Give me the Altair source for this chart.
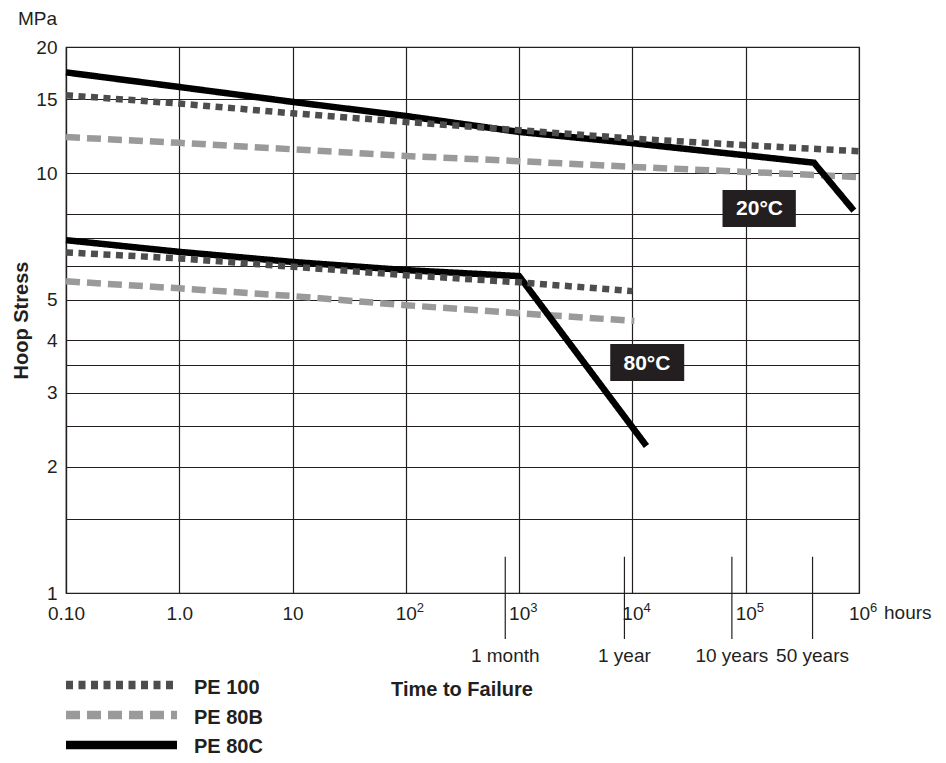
import json
import altair as alt
import pandas as pd

# ---------------- data ----------------
grades = ["PE 100", "PE 80B", "PE 80C"]
grade_colors = ["#4d4d4d", "#9a9a9a", "#000000"]

# 20 °C curves (time in hours, hoop stress in MPa)
t20_pe100 = [0.1, 1, 10, 100, 1e3, 1e4, 1e5, 1e6]
s20_pe100 = [15.35, 14.66, 13.9, 13.26, 12.67, 12.1, 11.67, 11.29]
t20_pe80b = [0.1, 1, 10, 100, 1e3, 1e4, 1e5, 1e6]
s20_pe80b = [12.2, 11.82, 11.41, 11.0, 10.69, 10.36, 10.08, 9.8]
t20_pe80c = [0.1, 1, 10, 100, 1e3, 1e4, 1e5, 4e5, 9e5]
s20_pe80c = [17.4, 16.06, 14.8, 13.7, 12.55, 11.8, 11.04, 10.6, 8.15]

# 80 °C curves
t80_pe100 = [0.1, 1, 10, 100, 1e3, 1e4]
s80_pe100 = [6.48, 6.27, 5.99, 5.72, 5.50, 5.24]
t80_pe80b = [0.1, 1, 10, 100, 1e3, 1.04e4]
s80_pe80b = [5.53, 5.32, 5.10, 4.85, 4.64, 4.45]
t80_pe80c = [0.1, 1, 10, 100, 1e3, 1.33e4]
s80_pe80c = [6.93, 6.50, 6.15, 5.88, 5.69, 2.24]

# axes
x_ticks = [0.1, 1, 10, 100, 1e3, 1e4, 1e5, 1e6]
x_tick_labels = ["0.10", "1.0", "10", "10", "10", "10", "10", "10"]
exp_ticks = [100, 1e3, 1e4, 1e5, 1e6]
exp_labels = ["2", "3", "4", "5", "6"]
y_grid = [1, 1.5, 2, 2.5, 3, 3.5, 4, 5, 6, 7, 8, 10, 15, 20]
y_labelled = [1, 2, 3, 4, 5, 10, 15, 20]

# time markers below the axis
marker_t = [754, 8500, 75500, 389000]
marker_labels = ["1 month", "1 year", "10 years", "50 years"]
marker_top_s = [1.22, 1.22, 1.22, 1.22]

# temperature label boxes
box_labels = ["20°C", "80°C"]
box_t0 = [62400, 6370]
box_t1 = [277000, 28650]
box_s_hi = [9.12, 3.92]
box_s_lo = [7.45, 3.20]
box_tc = [132500, 13430]
box_sc = [8.21, 3.52]

# ---------------- tables ----------------
rows = []
for temp, g, ts, ss in [
    ("20", "PE 100", t20_pe100, s20_pe100),
    ("20", "PE 80B", t20_pe80b, s20_pe80b),
    ("20", "PE 80C", t20_pe80c, s20_pe80c),
    ("80", "PE 100", t80_pe100, s80_pe100),
    ("80", "PE 80B", t80_pe80b, s80_pe80b),
    ("80", "PE 80C", t80_pe80c, s80_pe80c),
]:
    for t, s in zip(ts, ss):
        rows.append({"grade": g, "temp": temp, "series": g + " " + temp, "t": t, "s": s})
df = pd.DataFrame(rows)

markers = pd.DataFrame({"t": marker_t, "s": marker_top_s, "label": marker_labels})
boxes = pd.DataFrame({"label": box_labels, "t0": box_t0, "t1": box_t1,
                      "s0": box_s_lo, "s1": box_s_hi, "tc": box_tc, "sc": box_sc})
exps = pd.DataFrame({"t": exp_ticks, "e": exp_labels})
legend_df = pd.DataFrame({"grade": grades})

FONT = "Liberation Sans, Arial, Helvetica, sans-serif"
INK = "#231f20"
W, H = 793, 546

xscale = alt.Scale(type="log", domain=[0.1, 1e6], nice=False)
yscale = alt.Scale(type="log", domain=[1, 20], nice=False)
color_enc = alt.Color("grade:N", scale=alt.Scale(domain=grades, range=grade_colors), legend=None)
dash_enc = alt.StrokeDash("grade:N", scale=alt.Scale(domain=grades, range=[[7, 5.5], [14, 7], [1, 0]]),
                          legend=None)

label_expr_x = f"{json.dumps(x_tick_labels, ensure_ascii=False)}[round(log(datum.value)/LN10) + 1]"
label_expr_y = f"indexof({json.dumps(y_labelled)}, datum.value) >= 0 ? datum.label : ''"

axis_style = dict(
    grid=True, ticks=False, domainColor=INK, domainWidth=1.2,
    gridColor=INK, gridWidth=1.2, gridOpacity=1,
    labelFont=FONT, labelFontSize=19, labelColor=INK, labelFlush=False,
    labelOverlap=False, labelBound=False,
    titleFont=FONT, titleFontSize=20, titleFontWeight="bold", titleColor=INK,
)
x_axis = alt.Axis(values=x_ticks, labelExpr=label_expr_x, title="Time to Failure",
                  titleX=395.5, titleY=102, titleAlign="center", titleBaseline="alphabetic",
                  labelPadding=11, **axis_style)
y_axis = alt.Axis(values=y_grid, labelExpr=label_expr_y, format="~g", title="Hoop Stress",
                  titleAngle=270, titleX=-39, titleY=273, titleAlign="center",
                  titleBaseline="alphabetic", labelPadding=9, **axis_style)


def X(field):
    return alt.X(field, scale=xscale, axis=x_axis)


def Y(field):
    return alt.Y(field, scale=yscale, axis=y_axis)


layers = []
draw_order = ["PE 80B", "PE 80C", "PE 100"]
for g in draw_order:
    layers.append(
        alt.Chart(df).transform_filter(alt.datum.grade == g)
        .mark_line(strokeWidth=6.5, strokeCap="butt", strokeJoin="miter")
        .encode(x=X("t:Q"), y=Y("s:Q"), color=color_enc, strokeDash=dash_enc, detail="series:N")
    )

# temperature boxes
layers.append(
    alt.Chart(boxes).mark_rect(fill=INK).encode(
        x=X("t0:Q"), x2="t1:Q", y=Y("s0:Q"), y2="s1:Q",
    )
)
layers.append(
    alt.Chart(boxes).mark_text(color="white", font=FONT, fontSize=21, fontWeight="bold",
                               align="center", baseline="middle").encode(
        x=X("tc:Q"), y=Y("sc:Q"), text="label:N",
    )
)

# exponents of the power-of-ten tick labels
layers.append(
    alt.Chart(exps).mark_text(color=INK, font=FONT, fontSize=13, align="left",
                              baseline="alphabetic", dx=11).encode(
        x=X("t:Q"), y=alt.value(H + 19), text="e:N",
    )
)

# time markers
layers.append(
    alt.Chart(markers).mark_rule(color=INK, strokeWidth=1.2).encode(
        x=X("t:Q"), y=Y("s:Q"), y2=alt.value(H + 46),
    )
)
layers.append(
    alt.Chart(markers).mark_text(color=INK, font=FONT, fontSize=19, align="center",
                                 baseline="alphabetic").encode(
        x=X("t:Q"), y=alt.value(H + 69), text="label:N",
    )
)

# "hours" after the last tick label
layers.append(
    alt.Chart(pd.DataFrame({"t": [1e6], "txt": ["hours"]})).mark_text(
        color=INK, font=FONT, fontSize=19, align="left", baseline="alphabetic", dx=25).encode(
        x=X("t:Q"), y=alt.value(H + 26), text="txt:N",
    )
)

# "MPa" unit
layers.append(
    alt.Chart(pd.DataFrame({"txt": ["MPa"]})).mark_text(
        color=INK, font=FONT, fontSize=19, align="right", baseline="alphabetic").encode(
        x=alt.value(-9), y=alt.value(-22.5), text="txt:N",
    )
)

# hand-drawn legend
legend_rule_y = [638, 668, 698]
legend_text_y = [647, 677, 705.5]
for i, g in enumerate(grades):
    sub = legend_df[legend_df.grade == g]
    layers.append(
        alt.Chart(sub).mark_rule(strokeWidth=8.5, strokeCap="butt").encode(
            x=alt.value(0), x2=alt.value(111), y=alt.value(legend_rule_y[i]),
            color=color_enc, strokeDash=dash_enc,
        )
    )
    layers.append(
        alt.Chart(sub).mark_text(color=INK, font=FONT, fontSize=20, fontWeight="bold",
                                 align="left", baseline="alphabetic").encode(
            x=alt.value(128), y=alt.value(legend_text_y[i]), text="grade:N",
        )
    )

chart = (
    alt.layer(*layers)
    .properties(width=W, height=H, autosize=alt.AutoSizeParams(type="none"),
                padding={"left": 58, "top": 39, "right": 75, "bottom": 162},
                background="white")
    .configure_view(stroke=INK, strokeWidth=1.2)
)

chart.save("out.html", embed_options={"renderer": "svg", "actions": False})
